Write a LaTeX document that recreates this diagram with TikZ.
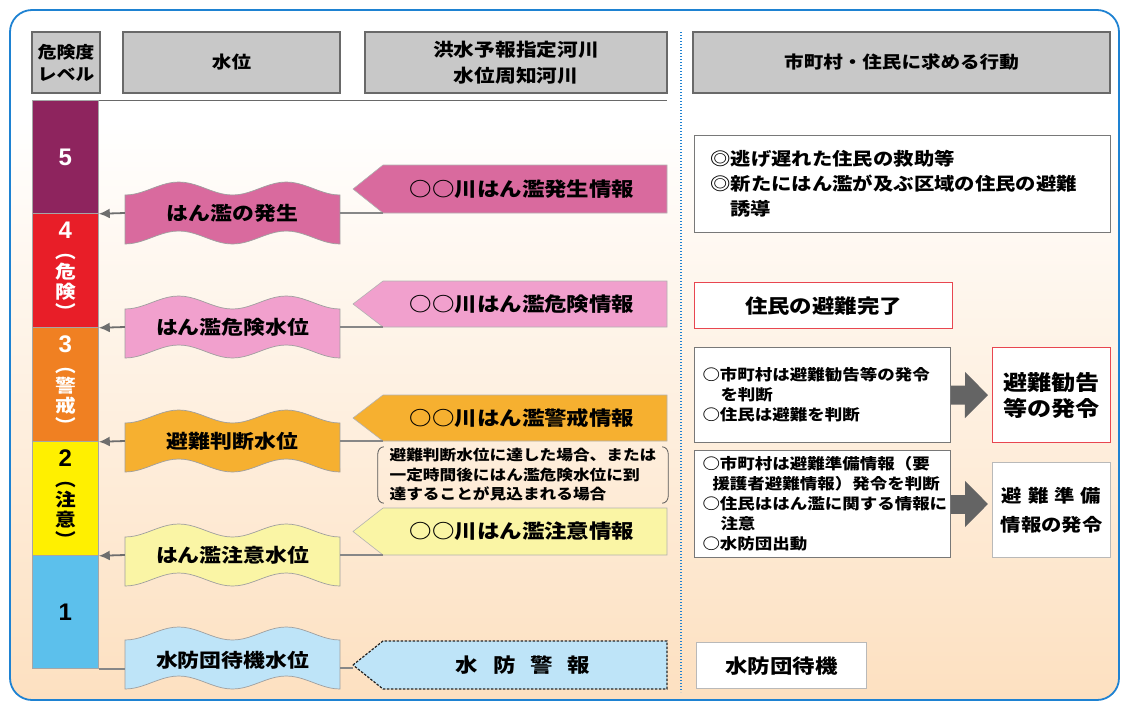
\documentclass[tikz,border=0pt]{standalone}
\usepackage{fontspec}
\setmainfont{Noto Sans CJK JP}
\newfontfamily\jp[FakeStretch=1.15]{Noto Sans CJK JP}
\newfontfamily\numf{Liberation Sans}
\usetikzlibrary{arrows.meta,calc}
\definecolor{frameblue}{RGB}{30,130,210}
\definecolor{peach}{RGB}{253,224,192}
\definecolor{hdrfill}{RGB}{200,200,200}
\definecolor{hdrline}{RGB}{105,105,105}
\definecolor{lvfive}{RGB}{142,36,94}
\definecolor{lvfour}{RGB}{232,30,40}
\definecolor{lvthree}{RGB}{240,128,34}
\definecolor{lvtwo}{RGB}{255,240,0}
\definecolor{lvone}{RGB}{92,192,236}
\definecolor{cfive}{RGB}{217,106,158}
\definecolor{cfour}{RGB}{241,160,205}
\definecolor{cthree}{RGB}{246,176,48}
\definecolor{ctwo}{RGB}{250,245,165}
\definecolor{cone}{RGB}{190,228,248}
\definecolor{conngray}{RGB}{135,135,135}
\definecolor{arrowgray}{RGB}{110,110,110}
\definecolor{boxgray}{RGB}{120,120,120}
\definecolor{boxred}{RGB}{232,70,80}
\definecolor{blockgray}{RGB}{100,100,100}
\newcommand{\wavepath}[4]{%
  \filldraw[fill=#4, draw=gray!75, line width=0.7pt]
    plot[domain=0:1,samples=41] ({#1+\x*(#2-#1)},{#3-18-6.5*(1-cos(720*\x))})
    -- plot[domain=1:0,samples=41] ({#1+\x*(#2-#1)},{#3+31-6.5*(1-cos(720*\x))}) -- cycle;}
\newcommand{\bannershape}[3]{%
  \filldraw[#3] (353,{(#1+#2)/2}) -- (383,#1) -- (667,#1) -- (667,#2) -- (383,#2) -- cycle;}
\tikzset{
  hdr/.style={draw=hdrline, fill=hdrfill, line width=1.2pt, minimum height=61, inner sep=0,
    align=center, font=\jp\bfseries\fontsize{17}{22}\selectfont},
  lvl/.style={draw=gray!70, line width=0.8pt, minimum width=66, inner sep=0, anchor=north west,
    align=center, font=\jp\bfseries\fontsize{18}{20}\selectfont},
  wtext/.style={minimum width=215, minimum height=50, inner sep=0,
    font=\jp\bfseries\fontsize{19}{22}\selectfont},
  btext/.style={inner sep=0, font=\jp\bfseries\fontsize{19.5}{22}\selectfont},
  bfill/.style={fill=#1, draw=gray!60, line width=0.6pt},
  conn/.style={draw=conngray, line width=1.6pt},
  larrow/.style={draw=arrowgray, line width=1.8pt, -{Latex[length=11pt,width=10pt]}},
  rbox/.style={draw=boxgray, fill=white, line width=1pt, inner sep=0, anchor=north west},
  rboxred/.style={draw=boxred, fill=white, line width=1.2pt, inner sep=0, anchor=north west},
  rboxlight/.style={draw=gray!55, fill=white, line width=1.2pt, inner sep=0, anchor=north west},
  blockarrow/.style={draw=blockgray, line width=19pt, -{Triangle[length=23pt,width=45pt]}, shorten >=4pt},
  dotline/.style={draw=frameblue, line width=1.3pt, dash pattern=on 1.3pt off 1.7pt},
}
\begin{document}
\begin{tikzpicture}[x=1pt,y=-1pt]
\useasboundingbox (0,0) rectangle (1122,702);
% background
\begin{scope}
  \clip[rounded corners=22] (10,10) rectangle (1119,700);
  \fill[white] (0,0) rectangle (1122,702);
  \shade[top color=white, bottom color=peach] (0,120) rectangle (1122,702);
\end{scope}
\draw[frameblue, line width=1.8pt, rounded corners=22] (10,10) rectangle (1119,700);

% headers
\node[hdr, minimum width=68, font=\jp\bfseries\fontsize{16.5}{22}\selectfont] (hL) at (66,62.5) {危険度\\レベル};
\node[hdr, minimum width=217] (hW) at (231.5,62.5) {水位};
\node[hdr, minimum width=302, font=\jp\bfseries\fontsize{18}{26}\selectfont] (hR) at (516,62.5) {洪水予報指定河川\\水位周知河川};
\node[hdr, minimum width=417] (hA) at (901.5,62.5) {市町村・住民に求める行動};

% divider lines
\coordinate (dtop) at (681,32);
\coordinate (dbot) at (681,692);
\draw[dotline] (dtop) -- (dbot);

% level column
\node[lvl, fill=lvfive, minimum height=113, text=white] (lv5) at (32,100) {{\numf\bfseries\fontsize{24}{24}\selectfont 5}};
\node[lvl, fill=lvfour, minimum height=114, text=white] (lv4) at (32,213) {{\numf\bfseries\fontsize{24}{24}\selectfont 4}\\︵\\危\\険\\︶};
\node[lvl, fill=lvthree, minimum height=114, text=white] (lv3) at (32,327) {{\numf\bfseries\fontsize{24}{24}\selectfont 3}\\︵\\警\\戒\\︶};
\node[lvl, fill=lvtwo, minimum height=114, text=black] (lv2) at (32,441) {{\numf\bfseries\fontsize{24}{24}\selectfont 2}\\︵\\注\\意\\︶};
\node[lvl, fill=lvone, minimum height=113, text=black] (lv1) at (32,555) {{\numf\bfseries\fontsize{24}{24}\selectfont 1}};
\coordinate (hlineR) at (667,100);
\draw[hdrline, line width=1pt] (lv5.north east) -- (hlineR);

% wave shapes (water levels)
\wavepath{125}{340}{213}{cfive}
\node[wtext] (w1) at (232.5,213) {はん濫の発生};
\wavepath{125}{340}{327}{cfour}
\node[wtext] (w2) at (232.5,327) {はん濫危険水位};
\wavepath{125}{340}{441}{cthree}
\node[wtext] (w3) at (232.5,441) {避難判断水位};
\wavepath{125}{340}{555}{ctwo}
\node[wtext] (w4) at (232.5,555) {はん濫注意水位};
\wavepath{125}{340}{658}{cone}
\node[wtext] (w5) at (232.5,660) {水防団待機水位};

% banners
\bannershape{165}{213}{bfill=cfive}
\node[btext] (b1) at (522,189) {○○川はん濫発生情報};
\bannershape{281}{327}{bfill=cfour}
\node[btext] (b2) at (522,304) {○○川はん濫危険情報};
\bannershape{395}{441}{bfill=cthree}
\node[btext] (b3) at (522,418) {○○川はん濫警戒情報};
\bannershape{508}{555}{bfill=ctwo}
\node[btext] (b4) at (522,531) {○○川はん濫注意情報};
\bannershape{641}{689}{fill=cone, draw=gray!30!black, line width=1.2pt, dash pattern=on 2.5pt off 1.5pt}
\node[btext] (b5) at (523,665) {水\hspace{15pt}防\hspace{15pt}警\hspace{15pt}報};

% connectors
\coordinate (b1c) at (383,213);
\coordinate (b2c) at (383,327);
\coordinate (b3c) at (383,441);
\coordinate (b4c) at (383,555);
\coordinate (b5c) at (353,668);
\draw[conn] (b1c) -- (w1.east);
\draw[conn] (b2c) -- (w2.east);
\draw[conn] (b3c) -- (w3.east);
\draw[conn] (b4c) -- (w4.east);
\draw[conn] (b5c) -- (b5c -| w5.east);
\draw[larrow] (w1.west) -- (lv5.south east);
\draw[larrow] (w2.west) -- (lv4.south east);
\draw[larrow] (w3.west) -- (lv3.south east);
\draw[larrow] (w4.west) -- (lv2.south east);
\draw[conn] (w5.west |- lv1.south east) -- (lv1.south east);

% condition note
\node[minimum width=290, minimum height=56, inner sep=0, align=left,
  font=\jp\bfseries\fontsize{14.5}{19.5}\selectfont] (note) at (523,475)
  {避難判断水位に達した場合、または\\一定時間後にはん濫危険水位に到\\達することが見込まれる場合};
\draw[gray!70!black, line width=0.8pt] ($(note.north west)+(6,0)$) to[out=180,in=90] ($(note.north west)+(0,7)$)
  -- ($(note.south west)+(0,-7)$) to[out=-90,in=180] ($(note.south west)+(6,0)$);
\draw[gray!70!black, line width=0.8pt] ($(note.north east)+(-6,0)$) to[out=0,in=90] ($(note.north east)+(0,7)$)
  -- ($(note.south east)+(0,-7)$) to[out=-90,in=0] ($(note.south east)+(-6,0)$);

% right side
\node[rbox, minimum width=416, minimum height=97, text width=384, align=left,
  font=\jp\bfseries\fontsize{17.7}{25}\selectfont] (rA) at (694,135)
  {◎逃げ遅れた住民の救助等\\◎新たにはん濫が及ぶ区域の住民の避難\\\hspace{20pt}誘導};
\node[rboxred, minimum width=258, minimum height=46,
  font=\jp\bfseries\fontsize{19.5}{22}\selectfont] (rB) at (694,282) {住民の避難完了};
\node[rbox, minimum width=256, minimum height=95, text width=240, align=left,
  font=\jp\bfseries\fontsize{15.2}{20}\selectfont] (rC) at (694,347)
  {○市町村は避難勧告等の発令\\\hspace{18pt}を判断\\○住民は避難を判断};
\node[rbox, minimum width=256, minimum height=107, text width=240, align=left,
  font=\jp\bfseries\fontsize{15.2}{20}\selectfont] (rD) at (694,450)
  {○市町村は避難準備情報（要\\\hspace{10pt}援護者避難情報）発令を判断\\○住民ははん濫に関する情報に\\\hspace{18pt}注意\\○水防団出動};
\node[rboxred, minimum width=118, minimum height=95, align=center,
  font=\jp\bfseries\fontsize{21}{26}\selectfont] (rE) at (992,347) {避難勧告\\等の発令};
\node[rboxlight, minimum width=118, minimum height=95, align=center,
  font=\jp\bfseries\fontsize{17.7}{29}\selectfont] (rF) at (992,462)
  {避\hspace{6pt}難\hspace{6pt}準\hspace{6pt}備\\情報の発令};
\node[rboxlight, minimum width=170, minimum height=46,
  font=\jp\bfseries\fontsize{19.5}{22}\selectfont] (rG) at (696,642) {水防団待機};

\draw[blockarrow] (rC.east) -- (rE.west);
\draw[blockarrow] (rD.east) -- (rD.east -| rF.west);
\end{tikzpicture}
\end{document}
